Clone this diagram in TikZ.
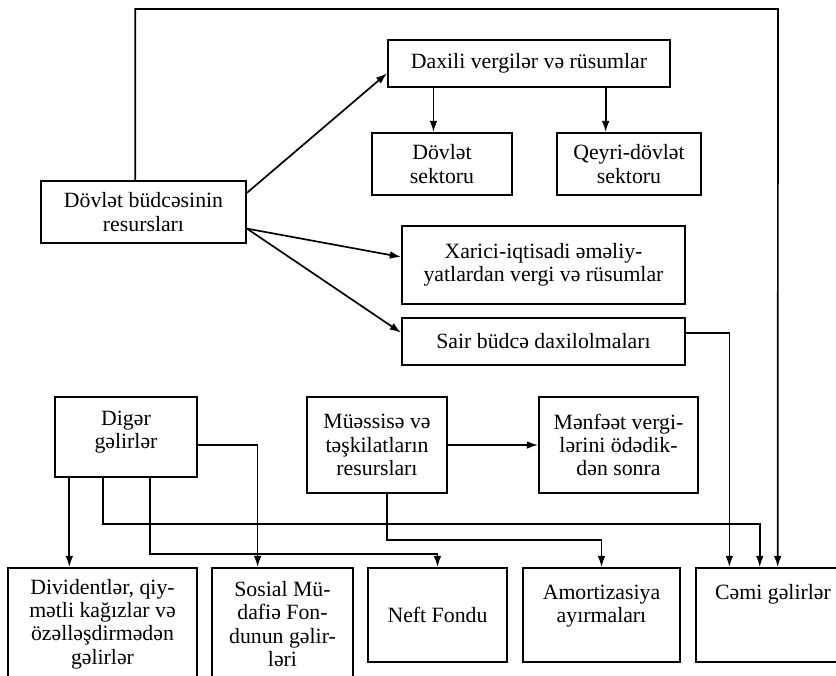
\documentclass[tikz,border=0pt]{standalone}
\usepackage{fontspec}
\setmainfont{Liberation Serif}
\usetikzlibrary{calc,arrows.meta}

\begin{document}
\begin{tikzpicture}[x=0.025cm,y=-0.025cm,
    box/.style={draw,line width=1.3pt,inner sep=0pt,align=center,font=\fontsize{15.5}{16.5}\selectfont},
    arr/.style={line width=1.2pt,-{Latex[length=8pt,width=5.5pt]}}]
      \clip(0,0)rectangle(836,676);
      \begin{scope}
        % budget part
        \node[box,minimum width=5.125cm,minimum height=1.55cm](res)at(143.5,212){Dövlət büdcəsinin\\resursları};
        \node[box,minimum width=7.05cm,minimum height=1.175cm](dax)at(529,63.5){Daxili vergilər və rüsumlar};
        \node[box,minimum width=3.5cm,minimum height=1.55cm](dov)at(442,164){Dövlət\\sektoru};
        \node[box,minimum width=3.6cm,minimum height=1.55cm](qey)at(629,164){Qeyri-dövlət\\sektoru};
        \node[box,minimum width=7.075cm,minimum height=1.95cm](xar)at(543.5,265){Xarici-iqtisadi əməliy-\\yatlardan vergi və rüsumlar};
        \node[box,minimum width=7.075cm,minimum height=1.175cm](sair)at(543.5,341.5){Sair büdcə daxilolmaları};
        % other sources
        \node[box,minimum width=3.55cm,minimum height=2cm](dig)at(126,437){Digər\\gəlirlər\\[-0.4em]};
        \node[box,minimum width=3.5cm,minimum height=2.4cm](mue)at(377,445){Müəssisə və\\təşkilatların\\resursları};
        \node[box,minimum width=3.975cm,minimum height=2.4cm](men)at(618.5,445){Mənfəət vergi-\\lərini ödədik-\\dən sonra};
        % bottom row
        \node[box,minimum width=4.725cm,minimum height=2.8cm](div)at(102.5,624){Dividentlər, qiy-\\mətli kağızlar və\\özəlləşdirmədən\\gəlirlər};
        \node[box,minimum width=3.525cm,minimum height=2.8cm](sos)at(282.5,624){Sosial Mü-\\dafiə Fon-\\dunun gəlir-\\ləri};
        \node[box,minimum width=3.475cm,minimum height=2.35cm](nef)at(437.5,615){Neft Fondu};
        \node[box,minimum width=3.925cm,minimum height=2.35cm](amo)at(601.5,615){Amortizasiya\\ayırmaları\\ };
        \node[box,minimum width=3.85cm,minimum height=2.35cm](cem)at(773,615){Cəmi gəlirlər\\ \\ };

        \coordinate(r1)at($(res.north east)!0.2!(res.south east)$);
        \coordinate(r2)at($(res.north east)!0.76!(res.south east)$);
        \coordinate(t1)at($(res.north west)!0.46!(res.north east)$);
        \coordinate(top)at(778,9);
        \coordinate(c1)at($(cem.north west)!0.22!(cem.north east)$);
        \coordinate(c2)at($(cem.north west)!0.415!(cem.north east)$);
        \coordinate(c3)at($(cem.north west)!0.53!(cem.north east)$);
        \coordinate(x1)at($(dov.north west)!0.44!(dov.north east)$);
        \coordinate(x2)at($(qey.north west)!0.34!(qey.north east)$);
        \coordinate(s1)at($(sair.north east)!0.32!(sair.south east)$);
        \coordinate(d1)at($(dig.south west)!0.106!(dig.south east)$);
        \coordinate(d2)at($(dig.north east)!0.6!(dig.south east)$);
        \coordinate(d3)at($(dig.south west)!0.338!(dig.south east)$);
        \coordinate(d4)at($(dig.south west)!0.669!(dig.south east)$);
        \coordinate(s2)at($(sos.north west)!0.326!(sos.north east)$);
        \coordinate(m1)at($(mue.south west)!0.571!(mue.south east)$);

        \draw[arr](r1)--($(dax.north west)!0.7!(dax.south west)$);
        \draw[arr](r2)--($(xar.north west)!0.4!(xar.south west)$);
        \draw[arr](r2)--($(sair.north west)!0.32!(sair.south west)$);
        \draw[arr](x1|-dax.south)--(x1);
        \draw[arr](x2|-dax.south)--(x2);
        \draw[arr](t1)|-(top)--(c3);
        \draw[arr](s1)-|(c1);
        \draw[arr](d1)--(d1|-div.north);
        \draw[arr](d2)-|(s2);
        \draw[arr](d3)--++(0,46)-|(c2);
        \draw[arr](d4)--++(0,76)-|(nef.north);
        \draw[arr](m1)--++(0,46)-|(amo.north);
        \draw[arr](mue)--(men);
      \end{scope}
\end{tikzpicture}
\end{document}
